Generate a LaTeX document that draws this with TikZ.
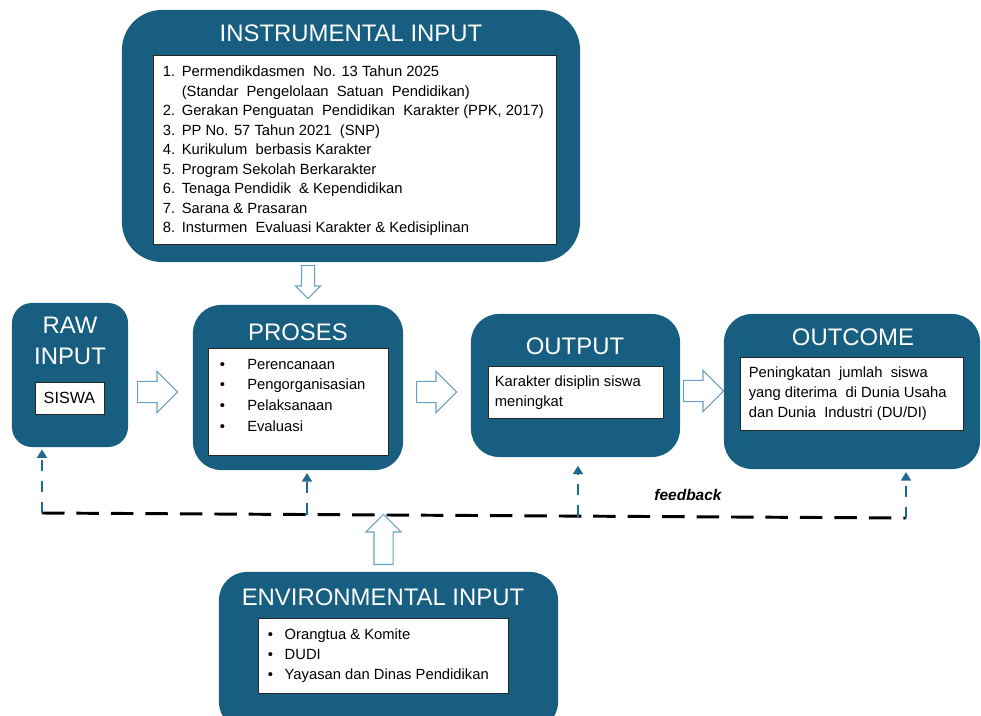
\documentclass[tikz,border=0pt]{standalone}
\usepackage{fontspec}
\setmainfont{Liberation Sans}
\usetikzlibrary{calc, positioning, shapes.arrows, arrows.meta}

\definecolor{boxblue}{RGB}{23,94,128}
\definecolor{arrowline}{RGB}{106,160,196}
\definecolor{fbblue}{RGB}{30,104,146}

\tikzstyle{bigbox}=[fill=boxblue, draw=none, rounded corners=0.7cm]
\tikzstyle{boxtitle}=[text=white, font=\fontsize{17}{22}\selectfont, inner sep=0pt]
\tikzstyle{whitebox}=[fill=white, draw=black!85, line width=0.6pt]
\tikzstyle{listtext}=[font=\fontsize{10.5}{14.2}\selectfont, align=left, inner sep=0pt, anchor=north west]
\tikzstyle{blockarrow}=[single arrow, draw=arrowline, fill=white, line width=0.8pt, anchor=tail]
\tikzstyle{fbarrow}=[fbblue, line width=2pt, dash pattern=on 8pt off 7pt, -{Triangle[length=6pt,width=7pt]}]

\begin{document}
\begin{tikzpicture}[x=0.025cm, y=-0.025cm]
		
		\clip (0,0) rectangle (981,716);
		
		% Boxes
		\node[bigbox, rounded corners=1cm, minimum width=11.45cm, minimum height=6.3cm] (instr) at (351,136) {};
		\node[bigbox, rounded corners=0.5cm, minimum width=2.9cm, minimum height=3.6cm] (raw) at (70,375) {};
		\node[bigbox, minimum width=5.25cm, minimum height=4.125cm] (proses) at (298,387.5) {};
		\node[bigbox, minimum width=5.225cm, minimum height=3.575cm] (output) at (575.5,385.5) {};
		\node[bigbox, minimum width=6.4cm, minimum height=3.875cm] (outcome) at (852,391.5) {};
		\node[bigbox, minimum width=8.475cm, minimum height=3.95cm] (env) at (388.5,651) {};
		
		% Titles
		\node[boxtitle] (instr title) at (351,33) {INSTRUMENTAL INPUT};
		\node[boxtitle, align=center] (raw title) at (70,341) {RAW\\INPUT};
		\node[boxtitle] (proses title) at (298,332) {PROSES};
		\node[boxtitle] (output title) at (575,346) {OUTPUT};
		\node[boxtitle] (outcome title) at (853,337) {OUTCOME};
		\node[boxtitle] (env title) at (383,597) {ENVIRONMENTAL INPUT};
		
		% White boxes and their texts
		\node[whitebox, minimum width=10.075cm, minimum height=4.725cm] (instr list) at (354.5,149.5) {};
		\node[listtext, font=\fontsize{10.5}{13.9}\selectfont] (instr items) at ($(instr list.north west)+(10,11)$) {%
			\makebox[13.5pt][l]{1.}Permendikdasmen \ No. 13 Tahun 2025\\
			\makebox[13.5pt][l]{}(Standar \ Pengelolaan \ Satuan \ Pendidikan)\\
			\makebox[13.5pt][l]{2.}Gerakan Penguatan \ Pendidikan \ Karakter (PPK, 2017)\\
			\makebox[13.5pt][l]{3.}PP No. 57 Tahun 2021 \ (SNP)\\
			\makebox[13.5pt][l]{4.}Kurikulum \ berbasis Karakter\\
			\makebox[13.5pt][l]{5.}Program Sekolah Berkarakter\\
			\makebox[13.5pt][l]{6.}Tenaga Pendidik \ \& Kependidikan\\
			\makebox[13.5pt][l]{7.}Sarana \& Prasaran\\
			\makebox[13.5pt][l]{8.}Insturmen \ Evaluasi Karakter \& Kedisiplinan};
		
		\node[whitebox, minimum width=1.725cm, minimum height=0.8cm, font=\fontsize{11.5}{13}\selectfont] (siswa) at (69.5,398) {SISWA};
		
		\node[whitebox, minimum width=4.5cm, minimum height=2.675cm] (proses list) at (298,401.5) {};
		\node[listtext, font=\fontsize{10.5}{14.7}\selectfont] (proses items) at ($(proses list.north west)+(12,11)$) {%
			\makebox[19.5pt][l]{\textbullet}Perencanaan\\
			\makebox[19.5pt][l]{\textbullet}Pengorganisasian\\
			\makebox[19.5pt][l]{\textbullet}Pelaksanaan\\
			\makebox[19.5pt][l]{\textbullet}Evaluasi};
		
		\node[whitebox, minimum width=4.375cm, minimum height=1.3cm] (output list) at (575.5,392) {};
		\node[listtext, font=\fontsize{10.5}{14}\selectfont] (output text) at ($(output list.north west)+(7,10)$) {%
			Karakter disiplin siswa\\meningkat};
		
		\node[whitebox, minimum width=5.575cm, minimum height=1.825cm] (outcome list) at (851.5,393.5) {};
		\node[listtext] (outcome text) at ($(outcome list.north west)+(9,10)$) {%
			Peningkatan \ jumlah \ siswa\\
			yang diterima \ di Dunia Usaha\\
			dan Dunia \ Industri (DU/DI)};
		
		\node[whitebox, minimum width=6.25cm, minimum height=1.875cm] (env list) at (383,655.5) {};
		\node[listtext] (env items) at ($(env list.north west)+(10,11)$) {%
			\makebox[12pt][l]{\textbullet}Orangtua \& Komite\\
			\makebox[12pt][l]{\textbullet}DUDI\\
			\makebox[12pt][l]{\textbullet}Yayasan dan Dinas Pendidikan};
		
		% Feedback
		\coordinate (fb raw) at (42,513);
		\coordinate (fb proses) at (307,514.5);
		\coordinate (fb output) at (578,516.5);
		\coordinate (fb outcome) at (906,518);
		\draw[line width=2.1pt, dash pattern=on 16pt off 8.5pt] (fb raw) -- (fb outcome);
		\draw[fbarrow] (fb raw) -- ([yshift=-1.5pt]fb raw |- raw.south);
		\draw[fbarrow] (fb proses) -- ([yshift=-2pt]fb proses |- proses.south);
		\draw[fbarrow] (fb output) -- ([yshift=-6pt]fb output |- output.south);
		\draw[fbarrow] (fb outcome) -- ([yshift=-2pt]fb outcome |- outcome.south);
		\node[font=\fontsize{11}{13}\selectfont\bfseries\itshape] (fb label) at (688,495) {feedback};
		
		% Block arrows
		\node[blockarrow, shape border rotate=270, inner sep=0.15cm, minimum height=0.825cm, single arrow head extend=0.15cm] (instr arrow) at (308,265) {};
		\node[blockarrow, inner sep=0.25cm, minimum height=1cm, single arrow head extend=0.25cm] (raw arrow) at (137,392) {};
		\node[blockarrow, inner sep=0.25cm, minimum height=1cm, single arrow head extend=0.25cm] (proses arrow) at (416,392) {};
		\node[blockarrow, inner sep=0.25cm, minimum height=1cm, single arrow head extend=0.25cm] (output arrow) at (683,391) {};
		\node[blockarrow, shape border rotate=90, inner sep=0.225cm, minimum height=1.25cm, single arrow head extend=0.2cm] (env arrow) at (383.5,565) {};
		
	\end{tikzpicture}
\end{document}
